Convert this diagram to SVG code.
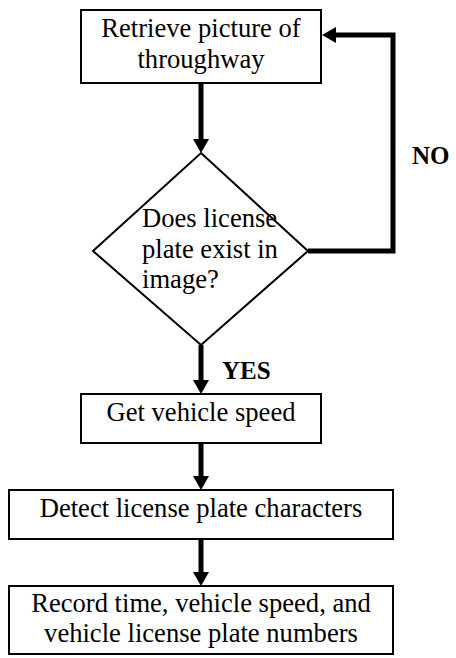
<svg xmlns="http://www.w3.org/2000/svg" width="456" height="658" viewBox="0 0 456 658">
  <style>
    .box { fill: #ffffff; stroke: #000000; stroke-width: 2; }
    .t { font-family: "Liberation Serif", "Times New Roman", serif; font-size: 26.6px; fill: #000000; }
    .c { text-anchor: middle; }
    .lbl { font-family: "Liberation Serif", "Times New Roman", serif; font-size: 25px; font-weight: bold; fill: #000000; }
    .conn { fill: none; stroke: #000000; stroke-width: 5; stroke-linejoin: miter; marker-end: url(#arrow); }
  </style>
  <defs>
    <marker id="arrow" viewBox="0 0 14 16" refX="0" refY="8" markerWidth="14" markerHeight="16" markerUnits="userSpaceOnUse" orient="auto">
      <path d="M0,0 L14,8 L0,16 Z" fill="#000000"/>
    </marker>
  </defs>
  <rect width="456" height="658" fill="#ffffff"/>

  <g id="connectors">
    <path class="conn" d="M201,84 V139"/>
    <path class="conn" d="M201,345 V380"/>
    <path class="conn" d="M201,443 V476"/>
    <path class="conn" d="M201,539 V572"/>
    <path class="conn" d="M308,251 H393 V35 H336"/>
    <text class="lbl" x="412" y="164">NO</text>
    <text class="lbl" x="222" y="379">YES</text>
  </g>

  <g id="retrieve">
    <rect class="box" x="81" y="10" width="240" height="73"/>
    <text class="t c" x="201" y="37">Retrieve picture of</text>
    <text class="t c" x="201" y="68">throughway</text>
  </g>

  <g id="decision">
    <polygon class="box" points="201,153 308,251 201,345 93,251"/>
    <text class="t" x="142" y="227">Does license</text>
    <text class="t" x="142" y="258">plate exist in</text>
    <text class="t" x="142" y="288">image?</text>
  </g>

  <g id="speed">
    <rect class="box" x="81" y="394" width="240" height="49"/>
    <text class="t c" x="201" y="421">Get vehicle speed</text>
  </g>

  <g id="detect">
    <rect class="box" x="9" y="490" width="384" height="49"/>
    <text class="t c" x="201" y="517">Detect license plate characters</text>
  </g>

  <g id="record">
    <rect class="box" x="9" y="586" width="384" height="68"/>
    <text class="t c" x="201" y="612">Record time, vehicle speed, and</text>
    <text class="t c" x="201" y="642">vehicle license plate numbers</text>
  </g>
</svg>
